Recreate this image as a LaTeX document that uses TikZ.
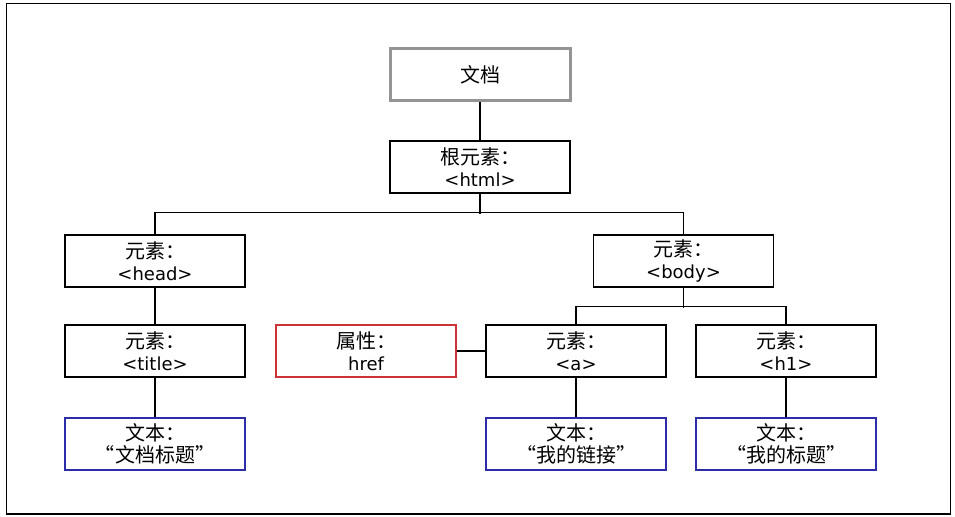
\documentclass[tikz,border=0pt]{standalone}
\usepackage{fontspec}
\setmainfont{DejaVu Sans}
\newfontfamily\cjk{Noto Sans CJK SC}
\newcommand{\zh}[1]{{\cjk\fontsize{20bp}{22bp}\selectfont #1}}
\begin{document}
\begin{tikzpicture}[x=1bp,y=-1bp,
  box/.style={draw=black,line width=1.3bp,minimum width=180bp,minimum height=52bp,inner sep=0pt,align=center,font=\fontsize{18bp}{22bp}\selectfont},
  docbox/.style={box,draw=black!42,line width=3bp},
  attrbox/.style={box,draw={rgb,255:red,205;green,50;blue,55}},
  textbox/.style={box,draw={rgb,255:red,45;green,45;blue,170}},
  conn/.style={line width=1.3bp,draw=black}]
\useasboundingbox (0,0) rectangle (955,517);
\draw[line width=1.3bp] (6.5,3.5) rectangle (950.5,514);
\node[docbox] (doc) at (480,75) {\zh{文档}};
\node[box] (root) at (480,167) {\zh{根元素：}\\<html>};
\node[box] (head) at (155,261) {\zh{元素：}\\<head>};
\node[box] (title) at (155,351) {\zh{元素：}\\<title>};
\node[textbox] (ttext) at (155,444) {\zh{文本：}\\\zh{“文档标题”}};
\node[box] (body) at (683.5,261) {\zh{元素：}\\<body>};
\node[attrbox] (href) at (366,351) {\zh{属性：}\\href};
\node[box] (a) at (576,351) {\zh{元素：}\\<a>};
\node[textbox] (atext) at (576,444) {\zh{文本：}\\\zh{“我的链接”}};
\node[box] (h1) at (786,351) {\zh{元素：}\\<h1>};
\node[textbox] (htext) at (786,444) {\zh{文本：}\\\zh{“我的标题”}};
\draw[conn] (doc) -- (root);
\draw[conn] (root.south) -- ++(0,20);
\draw[conn] (head.north) -- ++(0,-22) -| (body.north);
\draw[conn] (head) -- (title);
\draw[conn] (title) -- (ttext);
\draw[conn] (body.south) -- ++(0,20);
\draw[conn] (a.north) -- ++(0,-18) -| (h1.north);
\draw[conn] (href) -- (a);
\draw[conn] (a) -- (atext);
\draw[conn] (h1) -- (htext);
\end{tikzpicture}
\end{document}
